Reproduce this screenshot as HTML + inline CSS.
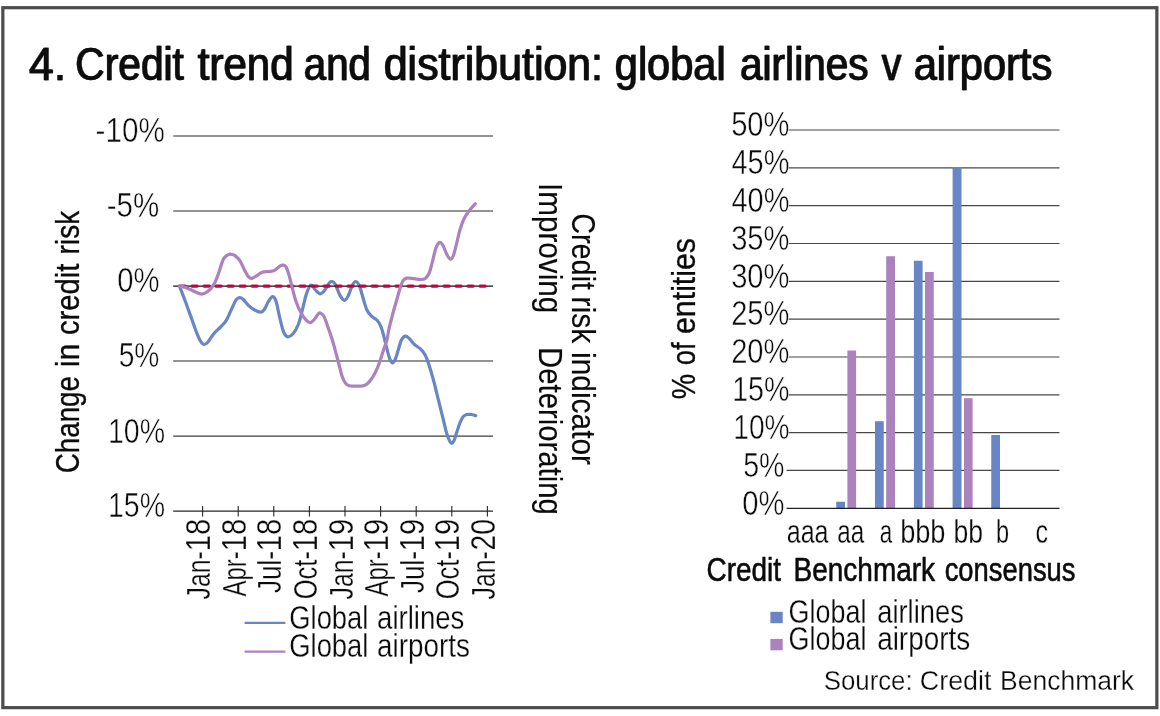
<!DOCTYPE html>
<html lang="en"><head><meta charset="utf-8"><title>4. Credit trend and distribution: global airlines v airports</title>
<style>html,body{margin:0;padding:0;background:#fff}body{width:1160px;height:716px;overflow:hidden}svg{display:block}text{font-family:"Liberation Sans",sans-serif;fill:#0b0b0b}.ti{stroke:#0b0b0b;stroke-width:.3px;vector-effect:non-scaling-stroke}.md{stroke:#0b0b0b;stroke-width:.3px;vector-effect:non-scaling-stroke}.mc{stroke:#0b0b0b;stroke-width:.55px;vector-effect:non-scaling-stroke}.md2{stroke:#0b0b0b;stroke-width:.15px;vector-effect:non-scaling-stroke}.lt{stroke:#fff;stroke-width:.45px;vector-effect:non-scaling-stroke}.l2{stroke:#fff;stroke-width:.25px;vector-effect:non-scaling-stroke}</style></head><body>
<svg width="1160" height="716" viewBox="0 0 1160 716">
<rect width="1160" height="716" fill="#fff"/>
<rect x="2.85" y="7.7" width="1154" height="699.95" fill="none" stroke="#4c4c4e" stroke-width="3.2"/>
<g stroke="#6e6f72" stroke-width="1.7">
<line x1="173.2" x2="493" y1="136" y2="136"/>
<line x1="173.2" x2="493" y1="211" y2="211"/>
<line x1="173.2" x2="493" y1="361" y2="361"/>
</g>
<line x1="173.2" x2="493" y1="436.2" y2="436.2" stroke="#3c3c3c" stroke-width="1.25"/>
<g stroke="#262626" stroke-width="1.1">
<line x1="173.2" x2="493" y1="511.1" y2="511.1" stroke-width="1.35"/>
<line x1="202.6" x2="202.6" y1="506" y2="516.4"/>
<line x1="238.2" x2="238.2" y1="506" y2="516.4"/>
<line x1="273.8" x2="273.8" y1="506" y2="516.4"/>
<line x1="309.4" x2="309.4" y1="506" y2="516.4"/>
<line x1="345" x2="345" y1="506" y2="516.4"/>
<line x1="380.6" x2="380.6" y1="506" y2="516.4"/>
<line x1="416.2" x2="416.2" y1="506" y2="516.4"/>
<line x1="451.8" x2="451.8" y1="506" y2="516.4"/>
<line x1="487.4" x2="487.4" y1="506" y2="516.4"/>
</g>
<path d="M179.5 286.1C180.483 288.667 183.4 296.117 185.4 301.5C187.4 306.883 189.45 312.767 191.5 318.4C193.55 324.033 196.033 331.25 197.7 335.3C199.367 339.35 200.433 341.167 201.5 342.7C202.567 344.233 203.067 344.583 204.1 344.5C205.133 344.417 206.083 343.983 207.7 342.2C209.317 340.417 211.633 336.367 213.8 333.8C215.967 331.233 218.65 328.983 220.7 326.8C222.75 324.617 224.3 323.633 226.1 320.7C227.9 317.767 229.833 312.667 231.5 309.2C233.167 305.733 234.767 301.833 236.1 299.9C237.433 297.967 238.35 297.717 239.5 297.6C240.65 297.483 241.517 297.917 243 299.2C244.483 300.483 246.483 303.517 248.4 305.3C250.317 307.083 252.45 308.75 254.5 309.9C256.55 311.05 259.033 312.317 260.7 312.2C262.367 312.083 263.217 310.983 264.5 309.2C265.783 307.417 267.033 303.6 268.4 301.5C269.767 299.4 271.417 296.6 272.7 296.6C273.983 296.6 274.9 297.867 276.1 301.5C277.3 305.133 278.633 313.283 279.9 318.4C281.167 323.517 282.417 329.133 283.7 332.2C284.983 335.267 286.05 336.533 287.6 336.8C289.15 337.067 291.217 335.85 293 333.8C294.783 331.75 296.767 328.35 298.3 324.5C299.833 320.65 300.917 315.567 302.2 310.7C303.483 305.833 304.783 299.333 306 295.3C307.217 291.267 308.5 288.15 309.5 286.5C310.5 284.85 311.017 284.817 312 285.4C312.983 285.983 314.017 288.6 315.4 290C316.783 291.4 318.633 293.933 320.3 293.8C321.967 293.667 323.917 290.983 325.4 289.2C326.883 287.417 328.05 284.383 329.2 283.1C330.35 281.817 331.267 281.25 332.3 281.5C333.333 281.75 334.117 282.283 335.4 284.6C336.683 286.917 338.467 292.767 340 295.4C341.533 298.033 343.2 300.4 344.6 300.4C346 300.4 347.117 297.9 348.4 295.4C349.683 292.9 351.1 287.717 352.3 285.4C353.5 283.083 354.45 281.5 355.6 281.5C356.75 281.5 357.967 282.7 359.2 285.4C360.433 288.1 361.717 293.6 363 297.7C364.283 301.8 365.483 306.933 366.9 310C368.317 313.067 369.833 314.433 371.5 316.1C373.167 317.767 375.367 318.333 376.9 320C378.433 321.667 379.55 323.417 380.7 326.1C381.85 328.783 382.783 332.383 383.8 336.1C384.817 339.817 385.783 344.55 386.8 348.4C387.817 352.25 388.933 356.767 389.9 359.2C390.867 361.633 391.7 363 392.6 363C393.5 363 394.333 361.45 395.3 359.2C396.267 356.95 397.383 352.7 398.4 349.5C399.417 346.3 400.25 342.233 401.4 340C402.55 337.767 404.017 336.367 405.3 336.1C406.583 335.833 407.567 337 409.1 338.4C410.633 339.8 412.567 342.7 414.5 344.5C416.433 346.3 418.9 347.4 420.7 349.2C422.5 351 423.9 352.617 425.3 355.3C426.7 357.983 427.7 361.017 429.1 365.3C430.5 369.583 432.15 375.233 433.7 381C435.25 386.767 436.85 393.667 438.4 399.9C439.95 406.133 441.6 412.75 443 418.4C444.4 424.05 445.65 429.967 446.8 433.8C447.95 437.633 449.083 439.817 449.9 441.4C450.717 442.983 451.017 443.417 451.7 443.3C452.383 443.183 453.15 442.55 454 440.7C454.85 438.85 455.817 435.15 456.8 432.2C457.783 429.25 458.883 425.55 459.9 423C460.917 420.45 461.75 418.317 462.9 416.9C464.05 415.483 465.383 414.9 466.8 414.5C468.217 414.1 469.917 414.317 471.4 414.5C472.883 414.683 474.983 415.417 475.7 415.6" fill="none" stroke="#6786c3" stroke-width="3.2" stroke-linecap="round" stroke-linejoin="round"/>
<line x1="173.2" x2="493" y1="286.1" y2="286.1" stroke="#111" stroke-width="1.25"/>
<line x1="180" x2="485.2" y1="286.1" y2="286.1" stroke="#c30443" stroke-width="3.2" stroke-dasharray="5.2 6.8" stroke-linecap="round"/>
<path d="M179.5 286.1C180.733 286.417 184.383 287.1 186.9 288C189.417 288.9 192.167 290.483 194.6 291.5C197.033 292.517 199.317 294.1 201.5 294.1C203.683 294.1 205.65 293.083 207.7 291.5C209.75 289.917 212.017 287.55 213.8 284.6C215.583 281.65 216.867 277.9 218.4 273.8C219.933 269.7 221.583 263.067 223 260C224.417 256.933 225.683 256.383 226.9 255.4C228.117 254.417 229.017 254.1 230.3 254.1C231.583 254.1 233 254.3 234.6 255.4C236.2 256.5 238.25 258.267 239.9 260.7C241.55 263.133 243.083 267.35 244.5 270C245.917 272.65 247.183 275.2 248.4 276.6C249.617 278 250.517 278.483 251.8 278.4C253.083 278.317 254.367 277.117 256.1 276.1C257.833 275.083 260.15 273.067 262.2 272.3C264.25 271.533 266.35 271.817 268.4 271.5C270.45 271.183 272.583 271.3 274.5 270.4C276.417 269.5 278.483 266.983 279.9 266.1C281.317 265.217 281.983 264.967 283 265.1C284.017 265.233 284.983 265.183 286 266.9C287.017 268.617 288.067 271.95 289.1 275.4C290.133 278.85 291.05 283.25 292.2 287.6C293.35 291.95 294.583 297.4 296 301.5C297.417 305.6 299.033 309.133 300.7 312.2C302.367 315.267 304.417 318.15 306 319.9C307.583 321.65 308.783 322.817 310.2 322.7C311.617 322.583 313.15 320.683 314.5 319.2C315.85 317.717 317.333 314.833 318.3 313.8C319.267 312.767 319.383 312.617 320.3 313C321.217 313.383 322.45 313.533 323.8 316.1C325.15 318.667 326.867 324.05 328.4 328.4C329.933 332.75 331.65 337.767 333 342.2C334.35 346.633 335.4 350.867 336.5 355C337.6 359.133 338.633 363.35 339.6 367C340.567 370.65 341.333 374.233 342.3 376.9C343.267 379.567 344.25 381.517 345.4 383C346.55 384.483 347.533 385.283 349.2 385.8C350.867 386.317 353.35 386.05 355.4 386.1C357.45 386.15 359.717 386.35 361.5 386.1C363.283 385.85 364.567 385.617 366.1 384.6C367.633 383.583 369.167 382.017 370.7 380C372.233 377.983 373.833 375.417 375.3 372.5C376.767 369.583 378.133 366.25 379.5 362.5C380.867 358.75 382.267 353.75 383.5 350C384.733 346.25 385.967 343.6 386.9 340C387.833 336.4 387.95 333.4 389.1 328.4C390.25 323.4 392.483 314.9 393.8 310C395.117 305.1 395.967 302.6 397 299C398.033 295.4 398.983 291.45 400 288.4C401.017 285.35 401.95 282.417 403.1 280.7C404.25 278.983 405.117 278.433 406.9 278.1C408.683 277.767 411.5 278.467 413.8 278.7C416.1 278.933 418.783 279.55 420.7 279.5C422.617 279.45 423.883 279.483 425.3 278.4C426.717 277.317 428.033 275.7 429.2 273C430.367 270.3 431.283 266.05 432.3 262.2C433.317 258.35 434.333 252.967 435.3 249.9C436.267 246.833 437.2 245.017 438.1 243.8C439 242.583 439.833 242.217 440.7 242.6C441.567 242.983 442.267 244.1 443.3 246.1C444.333 248.1 445.717 252.417 446.9 254.6C448.083 256.783 449.3 259.083 450.4 259.2C451.5 259.317 452.417 258.117 453.5 255.3C454.583 252.483 455.833 246.517 456.9 242.3C457.967 238.083 458.75 233.85 459.9 230C461.05 226.15 462.267 222.408 463.8 219.2C465.333 215.992 467.183 213.317 469.1 210.75C471.017 208.183 474.267 204.958 475.3 203.8" fill="none" stroke="#ab82bd" stroke-width="3.2" stroke-linecap="round" stroke-linejoin="round"/>
<line x1="244.6" x2="285.4" y1="622.9" y2="622.9" stroke="#6786c3" stroke-width="2.2"/>
<line x1="244.6" x2="285.4" y1="651.6" y2="651.6" stroke="#ab82bd" stroke-width="2.2"/>
<g stroke="#474747" stroke-width="1.2">
<line x1="786.5" x2="1059.5" y1="470.47" y2="470.47"/>
<line x1="788.5" x2="1059.5" y1="432.64" y2="432.64"/>
<line x1="788.5" x2="1059.5" y1="394.81" y2="394.81"/>
<line x1="788.5" x2="1059.5" y1="356.98" y2="356.98"/>
<line x1="788.5" x2="1059.5" y1="319.15" y2="319.15"/>
<line x1="788.5" x2="1059.5" y1="281.32" y2="281.32"/>
<line x1="788.5" x2="1059.5" y1="243.49" y2="243.49"/>
<line x1="788.5" x2="1059.5" y1="205.66" y2="205.66"/>
<line x1="788.5" x2="1059.5" y1="167.83" y2="167.83"/>
<line x1="788.5" x2="1059.5" y1="130" y2="130"/>
</g>
<rect x="836.25" y="501.75" width="8.75" height="6.55" fill="#6786c3"/>
<rect x="847.4" y="350.5" width="8.7" height="157.8" fill="#ab82bd"/>
<rect x="875" y="421.25" width="8.75" height="87.05" fill="#6786c3"/>
<rect x="886.2" y="256.25" width="8.8" height="252.05" fill="#ab82bd"/>
<rect x="913.9" y="260.75" width="8.7" height="247.55" fill="#6786c3"/>
<rect x="925" y="272" width="8.75" height="236.3" fill="#ab82bd"/>
<rect x="952.6" y="167" width="8.9" height="341.3" fill="#6786c3"/>
<rect x="964" y="398.2" width="8.6" height="110.1" fill="#ab82bd"/>
<rect x="991.25" y="435" width="8.75" height="73.3" fill="#6786c3"/>
<line x1="786.5" x2="1059.5" y1="508.3" y2="508.3" stroke="#222" stroke-width="1.2"/>
<rect x="770.4" y="611.8" width="12.3" height="11.4" fill="#6786c3"/>
<rect x="770.4" y="638.9" width="12.3" height="11.4" fill="#ab82bd"/>
<defs><filter id="bx" x="-1%" y="-5%" width="102%" height="110%"><feOffset dx="0.6" dy="0" result="o"/><feMerge><feMergeNode in="SourceGraphic"/><feMergeNode in="o"/></feMerge></filter></defs>
<g filter="url(#bx)" transform="translate(-0.3 0)">
<text transform="translate(28.743 79.6) scale(0.957 1)" font-size="46.5" class="ti">4.</text>
<text transform="translate(75.149 79.6) scale(0.875 1)" font-size="46.5" class="ti">Credit</text>
<text transform="translate(197.6 79.6) scale(0.903 1)" font-size="46.5" class="ti">trend</text>
<text transform="translate(303.635 79.6) scale(0.865 1)" font-size="46.5" class="ti">and</text>
<text transform="translate(383.578 79.6) scale(0.922 1)" font-size="46.5" class="ti">distribution:</text>
<text transform="translate(614.607 79.6) scale(0.893 1)" font-size="46.5" class="ti">global</text>
<text transform="translate(739.827 79.6) scale(0.873 1)" font-size="46.5" class="ti">airlines</text>
<text transform="translate(881.5 79.6) scale(0.842 1)" font-size="46.5" class="ti">v</text>
<text transform="translate(913.507 79.6) scale(0.893 1)" font-size="46.5" class="ti">airports</text>
</g>
<g>
<text transform="translate(95.543 142.3) scale(0.857 1)" font-size="34.6" class="lt">-10%</text>
<text transform="translate(106.746 217.3) scale(0.854 1)" font-size="34.6" class="lt">-5%</text>
<text transform="translate(117.155 292.4) scale(0.845 1)" font-size="34.6" class="lt">0%</text>
<text transform="translate(118.686 367.3) scale(0.814 1)" font-size="34.6" class="lt">5%</text>
<text transform="translate(107.951 442.5) scale(0.825 1)" font-size="34.6" class="lt">10%</text>
<text transform="translate(107.951 517.4) scale(0.825 1)" font-size="34.6" class="lt">15%</text>
<text transform="translate(210.1 599.4) rotate(-90) scale(0.74 1)" font-size="33.5" class="l2">Jan-</text>
<text transform="translate(210.1 551.286) rotate(-90) scale(0.843 1)" font-size="34.6" class="l2">18</text>
<text transform="translate(245.7 596.5) rotate(-90) scale(0.716 1)" font-size="33.5" class="l2">Apr-</text>
<text transform="translate(245.7 551.286) rotate(-90) scale(0.843 1)" font-size="34.6" class="l2">18</text>
<text transform="translate(281.3 593) rotate(-90) scale(0.776 1)" font-size="33.5" class="l2">Jul-</text>
<text transform="translate(281.3 551.286) rotate(-90) scale(0.843 1)" font-size="34.6" class="l2">18</text>
<text transform="translate(316.9 599.363) rotate(-90) scale(0.763 1)" font-size="33.5" class="l2">Oct-</text>
<text transform="translate(316.9 551.286) rotate(-90) scale(0.843 1)" font-size="34.6" class="l2">18</text>
<text transform="translate(352.5 599.4) rotate(-90) scale(0.74 1)" font-size="33.5" class="l2">Jan-</text>
<text transform="translate(352.5 551.286) rotate(-90) scale(0.843 1)" font-size="34.6" class="l2">19</text>
<text transform="translate(388.1 596.5) rotate(-90) scale(0.716 1)" font-size="33.5" class="l2">Apr-</text>
<text transform="translate(388.1 551.286) rotate(-90) scale(0.843 1)" font-size="34.6" class="l2">19</text>
<text transform="translate(423.7 593) rotate(-90) scale(0.776 1)" font-size="33.5" class="l2">Jul-</text>
<text transform="translate(423.7 551.286) rotate(-90) scale(0.843 1)" font-size="34.6" class="l2">19</text>
<text transform="translate(459.3 599.363) rotate(-90) scale(0.763 1)" font-size="33.5" class="l2">Oct-</text>
<text transform="translate(459.3 551.286) rotate(-90) scale(0.843 1)" font-size="34.6" class="l2">19</text>
<text transform="translate(494.9 599.4) rotate(-90) scale(0.74 1)" font-size="33.5" class="l2">Jan-</text>
<text transform="translate(494.9 550.42) rotate(-90) scale(0.82 1)" font-size="34.6" class="l2">20</text>
<text transform="translate(79.2 473.33) rotate(-90) scale(0.83 1)" font-size="33.5" class="md">Change</text>
<text transform="translate(79.2 366.882) rotate(-90) scale(0.891 1)" font-size="33.5" class="md">in</text>
<text transform="translate(79.2 334.972) rotate(-90) scale(0.872 1)" font-size="33.5" class="md">credit</text>
<text transform="translate(79.2 254.376) rotate(-90) scale(0.838 1)" font-size="33.5" class="md">risk</text>
<text transform="translate(538.9 182.938) rotate(90) scale(0.887 1)" font-size="33.5" class="md2">Improving</text>
<text transform="translate(538.9 347.049) rotate(90) scale(0.875 1)" font-size="33.5" class="md2">Deteriorating</text>
<text transform="translate(572 213.139) rotate(90) scale(0.861 1)" font-size="33.5" class="md2">Credit</text>
<text transform="translate(572 296.401) rotate(90) scale(0.9 1)" font-size="33.5" class="md2">risk</text>
<text transform="translate(572 352.015) rotate(90) scale(0.893 1)" font-size="33.5" class="md2">indicator</text>
<text transform="translate(289.283 628.6) scale(0.817 1)" font-size="33.5" class="l2">Global</text>
<text transform="translate(377.077 628.6) scale(0.823 1)" font-size="33.5" class="l2">airlines</text>
<text transform="translate(289.283 657.2) scale(0.817 1)" font-size="33.5" class="l2">Global</text>
<text transform="translate(377.068 657.2) scale(0.832 1)" font-size="33.5" class="l2">airports</text>
<text transform="translate(742.356 514.5) scale(0.844 1)" font-size="34.6" class="lt">0%</text>
<text transform="translate(743.173 476.67) scale(0.827 1)" font-size="34.6" class="lt">5%</text>
<text transform="translate(733.272 438.84) scale(0.814 1)" font-size="34.6" class="lt">10%</text>
<text transform="translate(732.145 401.01) scale(0.828 1)" font-size="34.6" class="lt">15%</text>
<text transform="translate(731.158 363.18) scale(0.842 1)" font-size="34.6" class="lt">20%</text>
<text transform="translate(731.158 325.35) scale(0.842 1)" font-size="34.6" class="lt">25%</text>
<text transform="translate(731.158 287.52) scale(0.842 1)" font-size="34.6" class="lt">30%</text>
<text transform="translate(731.158 249.69) scale(0.842 1)" font-size="34.6" class="lt">35%</text>
<text transform="translate(731.4 211.86) scale(0.838 1)" font-size="34.6" class="lt">40%</text>
<text transform="translate(731.4 174.03) scale(0.838 1)" font-size="34.6" class="lt">45%</text>
<text transform="translate(731.158 136.2) scale(0.842 1)" font-size="34.6" class="lt">50%</text>
<text transform="translate(786.754 542.5) scale(0.746 1)" font-size="33.5" class="l2">aaa</text>
<text transform="translate(837.277 542.5) scale(0.723 1)" font-size="33.5" class="l2">aa</text>
<text transform="translate(879.833 542.5) scale(0.667 1)" font-size="33.5" class="l2">a</text>
<text transform="translate(900.126 542.5) scale(0.812 1)" font-size="33.5" class="l2">bbb</text>
<text transform="translate(953.412 542.5) scale(0.794 1)" font-size="33.5" class="l2">bb</text>
<text transform="translate(996.094 542.5) scale(0.703 1)" font-size="33.5" class="l2">b</text>
<text transform="translate(1035.5 542.5) scale(0.75 1)" font-size="33.5" class="l2">c</text>
<text transform="translate(695.2 399.254) rotate(-90) scale(0.854 1)" font-size="33.5" class="md">%</text>
<text transform="translate(695.2 365.318) rotate(-90) scale(0.818 1)" font-size="33.5" class="md">of</text>
<text transform="translate(695.2 334.005) rotate(-90) scale(0.905 1)" font-size="33.5" class="md">entities</text>
<text transform="translate(706.566 581) scale(0.834 1)" font-size="33.5" class="mc">Credit</text>
<text transform="translate(793.528 581) scale(0.836 1)" font-size="33.5" class="mc">Benchmark</text>
<text transform="translate(944.683 581) scale(0.817 1)" font-size="33.5" class="mc">consensus</text>
<text transform="translate(788.596 623.2) scale(0.804 1)" font-size="33.5" class="l2">Global</text>
<text transform="translate(877.183 623.2) scale(0.817 1)" font-size="33.5" class="l2">airlines</text>
<text transform="translate(788.596 650.3) scale(0.804 1)" font-size="33.5" class="l2">Global</text>
<text transform="translate(877.167 650.3) scale(0.833 1)" font-size="33.5" class="l2">airports</text>
<text transform="translate(823.772 689.6) scale(0.928 1)" font-size="27.8" class="l2">Source:</text>
<text transform="translate(919.834 689.6) scale(0.966 1)" font-size="27.8" class="l2">Credit</text>
<text transform="translate(1000.094 689.6) scale(0.953 1)" font-size="27.8" class="l2">Benchmark</text>
</g>
</svg></body></html>
